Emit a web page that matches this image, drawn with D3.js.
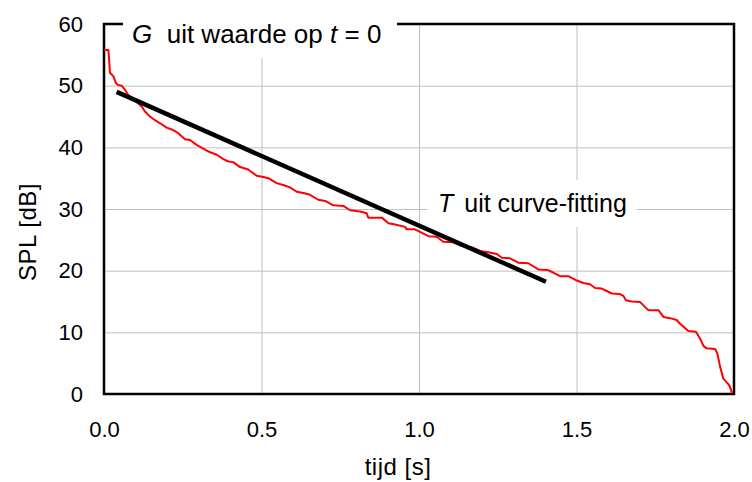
<!DOCTYPE html>
<html>
<head>
<meta charset="utf-8">
<script src="https://cdn.jsdelivr.net/npm/d3@7"></script>
<style>
  body { margin: 0; background: #fff; }
  svg { display: block; font-family: "Liberation Sans", Arial, sans-serif; }
</style>
</head>
<body>
<svg id="chart" width="752" height="482"></svg>
<script>
// decay curve
var tijd = [0, 0.014, 0.019, 0.030, 0.038, 0.045, 0.056, 0.067, 0.077, 0.093, 0.109, 0.120, 0.130, 0.146, 0.162, 0.178,
  0.199, 0.215, 0.236, 0.257, 0.273, 0.294, 0.315, 0.337, 0.358, 0.379, 0.395, 0.410, 0.432, 0.458, 0.463, 0.485,
  0.506, 0.522, 0.548, 0.569, 0.590, 0.612, 0.633, 0.654, 0.680, 0.702, 0.728, 0.760, 0.781, 0.813, 0.834, 0.839,
  0.882, 0.903, 0.924, 0.956, 0.961, 0.987, 1.003, 1.030, 1.056, 1.077, 1.109, 1.136, 1.167, 1.194, 1.220, 1.247,
  1.263, 1.289, 1.315, 1.347, 1.379, 1.410, 1.426, 1.448, 1.474, 1.501, 1.522, 1.543, 1.559, 1.580, 1.596, 1.612,
  1.638, 1.649, 1.657, 1.675, 1.702, 1.728, 1.760, 1.776, 1.797, 1.818, 1.829, 1.855, 1.879, 1.892, 1.903, 1.913,
  1.940, 1.947, 1.956, 1.966, 1.982, 1.987, 1.994];
var spl = [55.8, 55.8, 52.1, 51.5, 50.4, 50.1, 50.0, 49.3, 48.5, 47.8, 47.1, 46.6, 45.8, 45.0, 44.4, 43.9,
  43.2, 42.9, 42.3, 41.3, 41.2, 40.4, 39.8, 39.2, 38.8, 38.1, 37.7, 37.6, 36.8, 36.4, 36.2, 35.4,
  35.2, 35.0, 34.2, 33.9, 33.5, 32.8, 32.6, 32.3, 31.5, 31.3, 30.6, 30.5, 29.8, 29.6, 29.3, 28.6,
  28.6, 27.7, 27.5, 27.1, 26.7, 26.7, 26.3, 25.6, 25.5, 24.7, 24.6, 24.0, 23.8, 23.2, 23.0, 22.7,
  22.1, 22.0, 21.3, 21.2, 20.2, 20.1, 19.7, 19.1, 19.1, 18.4, 18.0, 17.8, 17.2, 17.1, 16.7, 16.3,
  16.2, 15.9, 15.2, 15.0, 14.9, 13.6, 13.6, 12.5, 12.3, 12.0, 11.4, 10.2, 10.1, 9.0, 7.8, 7.4,
  7.3, 6.6, 4.4, 2.5, 1.6, 1.2, 0.1];

// fitted line
var fitT = [0.04, 1.403];
var fitV = [49.0, 18.2];

var xTicks = [0, 0.5, 1.0, 1.5, 2.0];
var yTicks = [0, 10, 20, 30, 40, 50, 60];

var svg = d3.select("#chart");
var pLeft = 104, pRight = 734, pTop = 24, pBottom = 394;

var x = d3.scaleLinear().domain([0, 2]).range([pLeft, pRight]);
var y = d3.scaleLinear().domain([0, 60]).range([pBottom, pTop]);

// grid
svg.append("g")
  .attr("transform", "translate(0," + pBottom + ")")
  .call(d3.axisBottom(x).tickValues(xTicks).tickSize(-(pBottom - pTop)).tickFormat(""))
  .call(g => g.select(".domain").remove())
  .call(g => g.selectAll("line").attr("stroke", "#c0c0c0"));
svg.append("g")
  .attr("transform", "translate(" + pLeft + ",0)")
  .call(d3.axisLeft(y).tickValues(yTicks).tickSize(-(pRight - pLeft)).tickFormat(""))
  .call(g => g.select(".domain").remove())
  .call(g => g.selectAll("line").attr("stroke", "#c0c0c0"));

// frame
svg.append("rect")
  .attr("x", pLeft).attr("y", pTop)
  .attr("width", pRight - pLeft).attr("height", pBottom - pTop)
  .attr("fill", "none").attr("stroke", "#000").attr("stroke-width", 2.5);

// tick labels
svg.append("g")
  .attr("transform", "translate(0," + pBottom + ")")
  .call(d3.axisBottom(x).tickValues(xTicks).tickSize(0).tickPadding(28).tickFormat(d3.format(".1f")))
  .call(g => g.select(".domain").remove())
  .call(g => g.selectAll("text").attr("font-size", 22).attr("fill", "#000").attr("font-family", null).attr("dy", "0.68em"));
svg.append("g")
  .attr("transform", "translate(" + pLeft + ",0)")
  .call(d3.axisLeft(y).tickValues(yTicks).tickSize(0).tickPadding(21).tickFormat(d3.format("d")))
  .call(g => g.select(".domain").remove())
  .call(g => g.selectAll("text").attr("font-size", 22).attr("fill", "#000").attr("font-family", null));

// axis titles
svg.append("text")
  .attr("x", 398).attr("y", 475)
  .attr("text-anchor", "middle").attr("font-size", 24).attr("letter-spacing", 0.5)
  .text("tijd [s]");
svg.append("text")
  .attr("transform", "translate(36,232) rotate(-90)")
  .attr("text-anchor", "middle").attr("font-size", 24).attr("letter-spacing", 0.5)
  .text("SPL [dB]");

// annotation boxes
svg.append("rect").attr("x", 123).attr("y", 8).attr("width", 274).attr("height", 50).attr("fill", "#fff");
svg.append("rect").attr("x", 427).attr("y", 180).attr("width", 210).attr("height", 47).attr("fill", "#fff");

var t1 = svg.append("text").attr("x", 132).attr("y", 43).attr("font-size", 26);
t1.append("tspan").attr("font-style", "italic").text("G");
t1.append("tspan").text("\u00a0 uit waarde op ");
t1.append("tspan").attr("font-style", "italic").text("t");
t1.append("tspan").text(" = 0");

var t2 = svg.append("text").attr("x", 438).attr("y", 212).attr("font-size", 25);
t2.append("tspan").attr("font-style", "italic").text("T");
t2.append("tspan").attr("dx", 4).text(" uit curve-fitting");

// curves
var line = d3.line().x(d => x(d[0])).y(d => y(d[1]));
svg.append("path")
  .datum(d3.zip(tijd, spl))
  .attr("d", line)
  .attr("fill", "none").attr("stroke", "#ff0000").attr("stroke-width", 2)
  .attr("stroke-linejoin", "round");
svg.append("path")
  .datum(d3.zip(fitT, fitV))
  .attr("d", line)
  .attr("fill", "none").attr("stroke", "#000").attr("stroke-width", 4.5);
</script>
</body>
</html>
